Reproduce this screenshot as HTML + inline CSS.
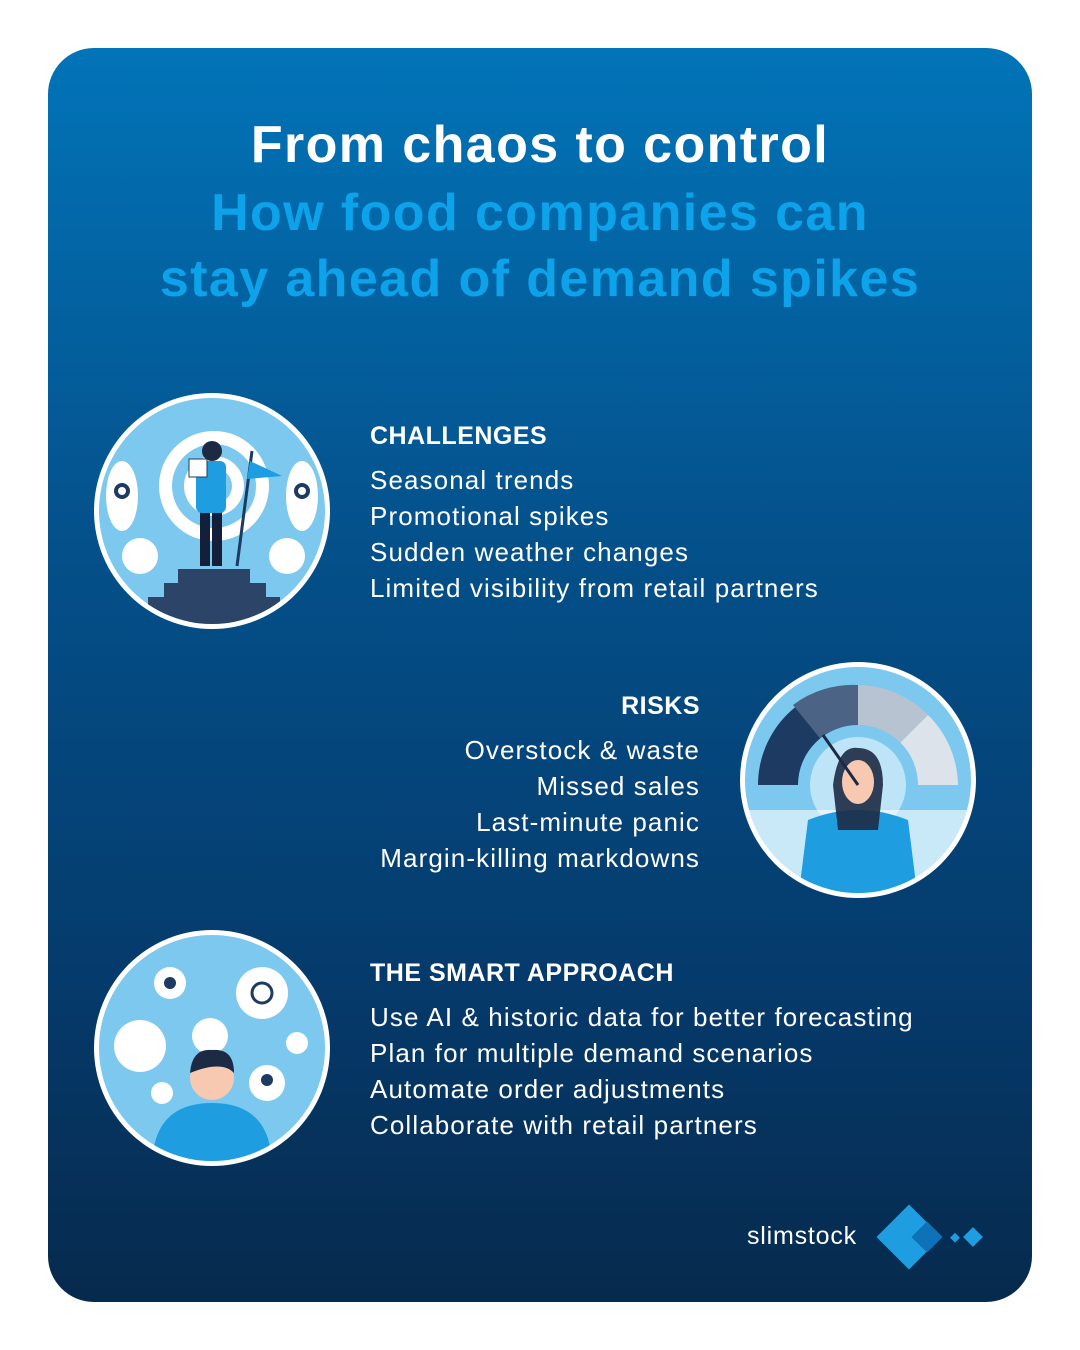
<!DOCTYPE html>
<html><head><meta charset="utf-8"><style>
body{margin:0;width:1080px;height:1350px;background:#fff;font-family:"Liberation Sans",sans-serif;position:relative;overflow:hidden}
.card{position:absolute;left:48px;top:48px;width:984px;height:1254px;border-radius:46px;background:linear-gradient(180deg,#0274b8 0%,#04508a 40%,#053a6b 75%,#062a4d 100%)}
.t{position:absolute;left:0;width:1080px;text-align:center;font-weight:bold;font-size:52px;line-height:66px;letter-spacing:1.4px}
.sec{position:absolute;color:#fff;font-size:26px;line-height:36px;letter-spacing:1.1px}
.sec b{display:block;font-size:25px;letter-spacing:.5px;margin-bottom:8px}
.r{text-align:right}
svg.c{position:absolute}
</style></head><body>
<div class="card"></div>
<div class="t" style="top:112px;color:#fff">From chaos to control</div>
<div class="t" style="top:180px;color:#0ca3ea">How food companies can<br>stay ahead of demand spikes</div>

<div class="sec" style="left:370px;top:418px"><b>CHALLENGES</b>Seasonal trends<br>Promotional spikes<br>Sudden weather changes<br>Limited visibility from retail partners</div>
<div class="sec r" style="right:380px;top:688px"><b>RISKS</b>Overstock &amp; waste<br>Missed sales<br>Last-minute panic<br>Margin-killing markdowns</div>
<div class="sec" style="left:370px;top:955px"><b>THE SMART APPROACH</b>Use AI &amp; historic data for better forecasting<br>Plan for multiple demand scenarios<br>Automate order adjustments<br>Collaborate with retail partners</div>

<svg class="c" style="left:92px;top:391px" width="240" height="240" viewBox="0 0 240 240">
<defs><clipPath id="a"><circle cx="120" cy="120" r="113"/></clipPath></defs>
<circle cx="120" cy="120" r="118" fill="#fff"/><circle cx="120" cy="120" r="113" fill="#7cc8ee"/>
<g clip-path="url(#a)">
<circle cx="122" cy="95" r="55" fill="#fff"/><circle cx="122" cy="95" r="42" fill="#7cc8ee"/><circle cx="122" cy="95" r="30" fill="#fff"/><circle cx="122" cy="95" r="18" fill="#7cc8ee"/>
<ellipse cx="30" cy="105" rx="16" ry="35" fill="#fff"/><circle cx="30" cy="100" r="8" fill="#1d3a63"/><circle cx="30" cy="100" r="4" fill="#fff"/>
<circle cx="48" cy="165" r="18" fill="#fff"/>
<ellipse cx="210" cy="105" rx="16" ry="35" fill="#fff"/><circle cx="210" cy="100" r="8" fill="#1d3a63"/><circle cx="210" cy="100" r="4" fill="#fff"/>
<circle cx="195" cy="165" r="18" fill="#fff"/>
<rect x="86" y="178" width="72" height="14" fill="#2b4468"/><rect x="72" y="192" width="102" height="14" fill="#2b4468"/><rect x="56" y="206" width="132" height="30" fill="#2b4468"/>
<rect x="108" y="120" width="10" height="55" fill="#14203a"/><rect x="120" y="120" width="10" height="55" fill="#14203a"/>
<rect x="104" y="70" width="30" height="52" rx="6" fill="#1e9ee0"/><circle cx="120" cy="60" r="10" fill="#1d2a44"/>
<line x1="145" y1="175" x2="160" y2="60" stroke="#1d3a63" stroke-width="3"/><path d="M158 70 L190 85 L155 88Z" fill="#1e9ee0"/>
<rect x="97" y="68" width="18" height="18" fill="#fff" stroke="#1d3a63"/>
</g></svg>

<svg class="c" style="left:738px;top:660px" width="240" height="240" viewBox="0 0 240 240">
<defs><clipPath id="b"><circle cx="120" cy="120" r="113"/></clipPath></defs>
<circle cx="120" cy="120" r="118" fill="#fff"/><circle cx="120" cy="120" r="113" fill="#7cc8ee"/>
<g clip-path="url(#b)">
<path d="M20 125 A100 100 0 0 1 120 25 L120 125Z" fill="#1d3a63"/>
<path d="M120 25 A100 100 0 0 1 190 55 L120 125Z" fill="#b7c3d1"/>
<path d="M190 55 A100 100 0 0 1 220 125 L120 125Z" fill="#dde3ea"/>
<path d="M55 45 A100 100 0 0 1 120 25 L120 125Z" fill="#4b6486"/>
<circle cx="120" cy="125" r="60" fill="#7cc8ee"/><circle cx="120" cy="125" r="48" fill="#fff" opacity=".5"/>
<rect x="0" y="150" width="240" height="90" fill="#fff" opacity=".6"/>
<path d="M70 160 Q120 140 170 160 L180 240 L60 240Z" fill="#1e9ee0"/>
<path d="M95 125 Q100 85 120 88 Q145 88 145 125 L140 170 L100 170Z" fill="#1d2a44" opacity=".9"/><ellipse cx="120" cy="122" rx="16" ry="22" fill="#f6c9b0"/>
<line x1="120" y1="125" x2="85" y2="75" stroke="#1d2a44" stroke-width="3"/>
</g></svg>

<svg class="c" style="left:92px;top:928px" width="240" height="240" viewBox="0 0 240 240">
<defs><clipPath id="d"><circle cx="120" cy="120" r="113"/></clipPath></defs>
<circle cx="120" cy="120" r="118" fill="#fff"/><circle cx="120" cy="120" r="113" fill="#7cc8ee"/>
<g clip-path="url(#d)" fill="#fff">
<circle cx="170" cy="65" r="26"/><circle cx="48" cy="118" r="26"/><circle cx="78" cy="55" r="16"/><circle cx="175" cy="155" r="18"/><circle cx="118" cy="108" r="18"/><circle cx="70" cy="165" r="11"/><circle cx="205" cy="115" r="11"/>
<circle cx="170" cy="65" r="10" fill="none" stroke="#1d3a63" stroke-width="3"/><circle cx="78" cy="55" r="6" fill="#1d3a63"/><circle cx="175" cy="152" r="6" fill="#1d3a63"/>
<path d="M60 240 Q60 175 120 175 Q180 175 180 240Z" fill="#1e9ee0"/>
<circle cx="120" cy="150" r="22" fill="#f6c9b0"/><path d="M98 145 Q100 120 120 122 Q142 120 142 145 Q130 132 98 145Z" fill="#1d2a44"/>
</g></svg>

<div style="position:absolute;left:747px;top:1222px;color:#fff;font-size:25px;letter-spacing:0.8px">slimstock</div>
<svg class="c" style="left:872px;top:1202px" width="120" height="72" viewBox="0 0 120 72">
<rect x="14" y="12" width="46" height="46" transform="rotate(45 37 35)" fill="#1e9ee0"/>
<rect x="44" y="24" width="22" height="22" transform="rotate(45 55 35)" fill="#0e72b8"/>
<rect x="80" y="32" width="7" height="7" transform="rotate(45 83 35)" fill="#1e9ee0"/>
<rect x="94" y="28" width="14" height="14" transform="rotate(45 101 35)" fill="#1e9ee0"/>
</svg>
</body></html>
